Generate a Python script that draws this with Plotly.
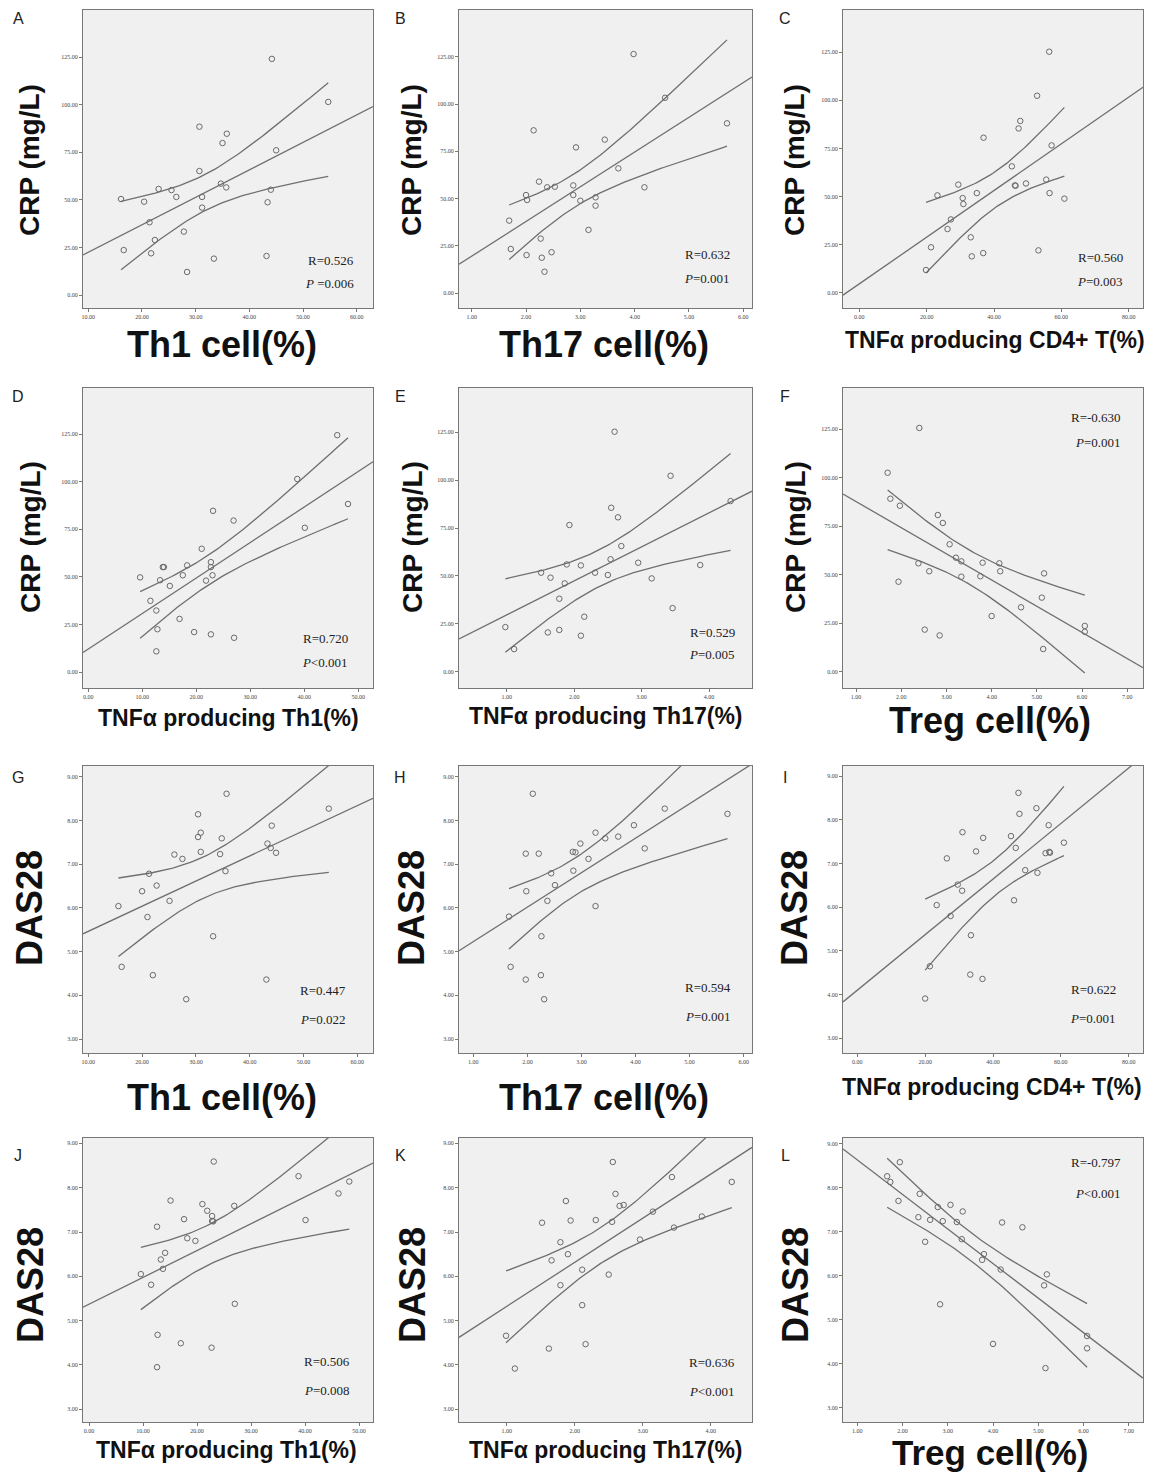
import numpy as np
import plotly.graph_objects as go

W, H = 1158, 1475

# ---------------- data ----------------
a_x = [44.2, 54.7, 30.7, 35.8, 35.0, 45.0, 30.7, 34.7, 35.7, 44.0, 23.1, 25.5, 26.4, 31.2, 16.1, 20.4, 43.4, 31.2, 21.4, 27.8, 22.4, 16.6, 21.7, 33.4, 43.2, 28.4]
a_y = [124.0, 101.4, 88.4, 84.7, 79.8, 76.0, 65.1, 58.5, 56.5, 55.3, 55.7, 55.1, 51.5, 51.5, 50.4, 49.0, 48.7, 45.9, 38.2, 33.3, 28.9, 23.6, 21.9, 19.1, 20.5, 12.1]

b_x = [3.98, 4.56, 5.70, 2.14, 2.92, 3.45, 3.70, 2.24, 2.39, 2.53, 2.87, 4.18, 2.00, 2.02, 2.87, 3.00, 3.28, 3.28, 1.69, 3.15, 2.27, 1.72, 2.01, 2.47, 2.29, 2.34]
b_y = [126.4, 103.3, 89.8, 86.1, 77.1, 81.2, 66.0, 59.0, 56.0, 56.3, 57.0, 56.0, 51.9, 49.3, 51.9, 48.9, 50.7, 46.3, 38.4, 33.5, 28.9, 23.4, 20.2, 21.7, 18.8, 11.4]

c_x = [56.4, 52.8, 47.8, 47.3, 36.9, 57.1, 45.3, 46.4, 49.5, 55.5, 29.4, 34.9, 56.5, 60.9, 23.2, 30.7, 30.9, 27.2, 26.2, 33.1, 21.3, 33.4, 36.8, 53.2, 19.8, 46.2]
c_y = [125.3, 102.4, 89.3, 85.4, 80.6, 76.6, 65.7, 55.6, 56.8, 58.8, 56.2, 51.8, 51.8, 48.9, 50.6, 49.2, 46.1, 38.1, 33.1, 28.8, 23.6, 18.9, 20.6, 22.0, 11.8, 55.8]

d_x = [46.1, 38.7, 48.1, 23.1, 26.9, 40.1, 21.0, 13.8, 14.0, 18.3, 22.7, 22.7, 17.5, 23.0, 9.6, 13.3, 21.8, 15.1, 11.5, 12.6, 16.9, 12.8, 19.6, 22.7, 27.0, 12.6]
d_y = [124.4, 101.4, 88.3, 84.7, 79.6, 75.8, 64.8, 55.2, 55.2, 56.1, 57.8, 55.2, 50.9, 50.9, 49.8, 48.3, 48.1, 45.3, 37.5, 32.4, 28.0, 22.6, 21.1, 19.9, 18.1, 11.0]

e_x = [2.60, 3.43, 4.32, 2.55, 2.65, 1.93, 2.70, 1.89, 2.10, 2.54, 2.95, 3.87, 1.51, 2.31, 2.50, 1.65, 3.15, 1.86, 1.78, 3.46, 2.15, 0.98, 1.61, 1.78, 2.10, 1.11]
e_y = [125.3, 102.3, 89.1, 85.6, 80.6, 76.6, 65.6, 56.0, 55.5, 58.7, 56.9, 55.7, 51.7, 51.7, 50.5, 49.1, 48.7, 46.1, 38.1, 33.2, 28.7, 23.3, 20.5, 21.8, 18.8, 11.8]

f_x = [2.40, 1.70, 1.76, 1.97, 2.81, 2.92, 3.07, 3.21, 3.33, 3.80, 4.17, 4.19, 2.38, 2.62, 3.33, 3.75, 5.16, 1.94, 5.11, 4.65, 4.00, 6.06, 6.06, 2.52, 2.85, 5.14]
f_y = [125.7, 102.6, 89.2, 85.6, 80.8, 76.7, 65.7, 58.8, 56.9, 56.2, 55.9, 51.8, 55.9, 51.8, 49.0, 49.2, 50.7, 46.4, 38.2, 33.2, 28.7, 23.6, 20.6, 21.7, 18.7, 11.7]

g_x = [35.7, 54.7, 30.4, 44.1, 30.9, 30.4, 34.8, 43.3, 43.9, 44.9, 26.0, 27.5, 30.9, 34.5, 35.5, 21.3, 22.7, 20.0, 25.1, 15.6, 21.0, 33.2, 16.2, 22.0, 43.1, 28.2]
g_y = [8.61, 8.27, 8.14, 7.88, 7.72, 7.62, 7.59, 7.47, 7.37, 7.26, 7.22, 7.12, 7.28, 7.23, 6.84, 6.78, 6.51, 6.38, 6.16, 6.04, 5.79, 5.35, 4.65, 4.46, 4.36, 3.91]

h_x = [2.10, 4.54, 5.70, 3.97, 3.26, 3.44, 3.68, 2.98, 1.97, 2.21, 2.84, 2.89, 3.13, 4.17, 2.44, 2.85, 2.51, 1.98, 2.37, 3.26, 1.66, 2.26, 1.69, 1.97, 2.25, 2.31]
h_y = [8.61, 8.27, 8.15, 7.89, 7.72, 7.59, 7.63, 7.47, 7.24, 7.24, 7.28, 7.27, 7.12, 7.36, 6.79, 6.85, 6.52, 6.38, 6.16, 6.04, 5.80, 5.35, 4.65, 4.36, 4.46, 3.91]

i_x = [47.5, 52.8, 47.8, 56.4, 31.0, 37.1, 45.3, 60.9, 46.7, 35.0, 55.5, 56.8, 26.4, 49.5, 53.1, 29.6, 30.9, 23.4, 46.2, 27.5, 33.5, 21.4, 33.3, 36.9, 20.0, 56.6]
i_y = [8.62, 8.27, 8.14, 7.88, 7.72, 7.59, 7.63, 7.48, 7.36, 7.28, 7.24, 7.25, 7.12, 6.85, 6.79, 6.52, 6.38, 6.05, 6.16, 5.80, 5.36, 4.65, 4.46, 4.36, 3.91, 7.27]

j_x = [23.1, 38.8, 48.2, 46.2, 15.1, 21.0, 21.9, 26.9, 22.8, 22.8, 40.1, 12.6, 17.6, 18.2, 19.7, 14.1, 13.3, 13.7, 9.6, 11.5, 27.0, 12.7, 17.0, 22.7, 12.6, 23.0]
j_y = [8.59, 8.26, 8.14, 7.87, 7.71, 7.63, 7.48, 7.59, 7.36, 7.25, 7.27, 7.12, 7.29, 6.86, 6.80, 6.53, 6.38, 6.17, 6.05, 5.81, 5.38, 4.68, 4.49, 4.39, 3.95, 7.24]

k_x = [2.56, 3.43, 4.31, 2.60, 1.87, 2.66, 2.72, 3.15, 3.87, 1.52, 1.94, 2.31, 2.55, 3.46, 2.96, 1.79, 1.90, 1.66, 2.11, 2.50, 1.79, 2.11, 0.99, 1.62, 2.16, 1.12]
k_y = [8.58, 8.24, 8.13, 7.86, 7.70, 7.59, 7.61, 7.46, 7.35, 7.21, 7.26, 7.27, 7.23, 7.10, 6.83, 6.77, 6.50, 6.36, 6.15, 6.04, 5.80, 5.35, 4.66, 4.37, 4.47, 3.92]

l_x = [1.94, 1.66, 1.73, 2.38, 1.91, 2.78, 3.06, 3.33, 2.35, 2.61, 2.89, 3.20, 4.20, 4.65, 3.31, 2.50, 3.80, 3.76, 4.17, 5.19, 5.13, 2.83, 6.08, 4.00, 6.08, 5.16]
l_y = [8.58, 8.26, 8.13, 7.86, 7.70, 7.56, 7.61, 7.46, 7.33, 7.27, 7.24, 7.22, 7.21, 7.10, 6.83, 6.77, 6.49, 6.36, 6.14, 6.03, 5.78, 5.35, 4.63, 4.45, 4.35, 3.90]

panel_letters = ["A", "B", "C", "D", "E", "F", "G", "H", "I", "J", "K", "L"]
r_texts = ["R=0.526", "R=0.632", "R=0.560", "R=0.720", "R=0.529", "R=-0.630",
           "R=0.447", "R=0.594", "R=0.622", "R=0.506", "R=0.636", "R=-0.797"]
p_texts = ["<i>P</i> =0.006", "<i>P</i>=0.001", "<i>P</i>=0.003", "<i>P</i><0.001", "<i>P</i>=0.005", "<i>P</i>=0.001",
           "<i>P</i>=0.022", "<i>P</i>=0.001", "<i>P</i>=0.001", "<i>P</i>=0.008", "<i>P</i><0.001", "<i>P</i><0.001"]
x_titles = ["Th1 cell(%)", "Th17 cell(%)", "TNFα producing CD4+ T(%)",
            "TNFα producing Th1(%)", "TNFα producing Th17(%)", "Treg cell(%)",
            "Th1 cell(%)", "Th17 cell(%)", "TNFα producing CD4+ T(%)",
            "TNFα producing Th1(%)", "TNFα producing Th17(%)", "Treg cell(%)"]
y_titles = ["CRP (mg/L)"] * 6 + ["DAS28"] * 6

xs = [a_x, b_x, c_x, d_x, e_x, f_x, g_x, h_x, i_x, j_x, k_x, l_x]
ys = [a_y, b_y, c_y, d_y, e_y, f_y, g_y, h_y, i_y, j_y, k_y, l_y]

# ---------------- layout / calibration (pixels) ----------------
cols = [(83, 373), (459, 752), (843, 1143)]
rows = [(10, 308), (388, 688), (766, 1053), (1138, 1422)]

# x calibration: (v0, px0, v1, px1)
xcal = [(10, 88.3, 60, 356.7), (1, 471.7, 6, 743.3), (0, 859.3, 80, 1128.7),
        (0, 88.3, 50, 358.3), (1, 506.7, 4, 709.0), (1, 856.0, 7, 1127.3),
        (10, 88.3, 60, 357.3), (1, 473.3, 6, 743.7), (0, 857.3, 80, 1128.7),
        (0, 89.0, 50, 359.0), (1, 506.7, 4, 710.7), (1, 857.3, 7, 1128.7)]
xdt = [10, 1, 20, 10, 1, 1, 10, 1, 20, 10, 1, 1]
ycal = [(0, 295.0, 125, 57.0), (0, 293.3, 125, 56.7), (0, 292.7, 125, 52.3),
        (0, 672.3, 125, 434.0), (0, 671.7, 125, 432.3), (0, 671.7, 125, 429.3),
        (3, 1039.0, 9, 776.7), (3, 1039.0, 9, 776.7), (3, 1038.3, 9, 776.3),
        (3, 1409.3, 8, 1187.7), (3, 1409.3, 8, 1187.7), (3, 1407.7, 8, 1187.7)]
ydt = [25] * 6 + [1] * 6

# text positions (right edge x, R y, P y)
rp_pos = [(356, 260, 284), (732, 255, 278), (1125, 257, 281),
          (350, 638, 662), (737, 632, 654), (1123, 417, 443),
          (348, 990, 1019), (733, 987, 1016), (1118, 989, 1018),
          (352, 1361, 1390), (737, 1362, 1391), (1123, 1162, 1193)]
letter_pos = [(18, 18), (400, 18), (785, 18), (18, 397), (400, 397), (785, 397),
              (18, 777), (400, 777), (785, 777), (18, 1155), (400, 1155), (785, 1155)]
xtitle_pos = [(222, 345, 36), (604, 345, 36), (995, 340, 23),
              (228, 718, 23), (606, 716, 23), (990, 720, 36),
              (222, 1097, 36), (604, 1097, 36), (992, 1087, 23),
              (226, 1450, 23), (606, 1450, 23), (990, 1452, 35)]
ytitle_x = [30, 412, 795]
ytitle_y = [160, 537, 908, 1285]

T95 = 2.064  # t(0.975, df=24)
LINE = "#6f6f6f"


def pix2val(cal, p):
    v0, p0, v1, p1 = cal
    return v0 + (p - p0) * (v1 - v0) / (p1 - p0)


def px(xp):
    return xp / W


def py(yp):
    return 1 - yp / H


fig = go.Figure()
annotations = []

for i in range(12):
    r, c = divmod(i, 3)
    x0, x1 = cols[c]
    y0, y1 = rows[r]
    xr = [pix2val(xcal[i], x0), pix2val(xcal[i], x1)]
    yr = [pix2val(ycal[i], y1), pix2val(ycal[i], y0)]
    sfx = "" if i == 0 else str(i + 1)
    xa, ya = "x" + sfx, "y" + sfx

    x = np.array(xs[i], dtype=float)
    y = np.array(ys[i], dtype=float)
    n = len(x)
    slope, icpt = np.polyfit(x, y, 1)
    resid = y - (slope * x + icpt)
    s = np.sqrt(np.sum(resid ** 2) / (n - 2))
    xbar = x.mean()
    sxx = np.sum((x - xbar) ** 2)

    # fit line across the whole axis
    xf = np.linspace(xr[0], xr[1], 50)
    fig.add_trace(go.Scatter(x=xf, y=slope * xf + icpt, mode="lines",
                             line=dict(color=LINE, width=1.3), xaxis=xa, yaxis=ya,
                             showlegend=False, hoverinfo="skip"))
    # 95% CI of mean
    xc = np.linspace(x.min(), x.max(), 80)
    se = s * np.sqrt(1 / n + (xc - xbar) ** 2 / sxx)
    yc = slope * xc + icpt
    for sign in (1, -1):
        fig.add_trace(go.Scatter(x=xc, y=yc + sign * T95 * se, mode="lines",
                                 line=dict(color=LINE, width=1.3), xaxis=xa, yaxis=ya,
                                 showlegend=False, hoverinfo="skip"))
    # points
    fig.add_trace(go.Scatter(x=x, y=y, mode="markers",
                             marker=dict(symbol="circle-open", size=5.5, color="#6a6a6a",
                                         line=dict(width=1)),
                             xaxis=xa, yaxis=ya, showlegend=False, cliponaxis=False))

    tick_font = dict(family="Liberation Serif", size=6, color="#444")
    fig.update_layout(**{
        ("xaxis" + sfx): dict(domain=[px(x0), px(x1)], range=xr, anchor=ya,
                              tick0=xcal[i][0], dtick=xdt[i], tickformat=".2f",
                              ticks="outside", ticklen=3, tickcolor="#777",
                              showgrid=False, zeroline=False, showline=True, mirror=True,
                              linecolor="#777", linewidth=1, tickfont=tick_font),
        ("yaxis" + sfx): dict(domain=[py(y1), py(y0)], range=yr, anchor=xa,
                              tick0=ycal[i][0], dtick=ydt[i], tickformat=".2f",
                              ticks="outside", ticklen=3, tickcolor="#777",
                              showgrid=False, zeroline=False, showline=True, mirror=True,
                              linecolor="#777", linewidth=1, tickfont=tick_font),
    })

    rx, ry, pyy = rp_pos[i]
    serif = dict(family="Liberation Serif", size=13, color="#222")
    annotations.append(dict(x=px(rx), y=py(ry), xref="paper", yref="paper", text=r_texts[i],
                            showarrow=False, xanchor="right", yanchor="middle", font=serif))
    annotations.append(dict(x=px(rx), y=py(pyy), xref="paper", yref="paper", text=p_texts[i],
                            showarrow=False, xanchor="right", yanchor="middle", font=serif))
    lx, ly = letter_pos[i]
    annotations.append(dict(x=px(lx), y=py(ly), xref="paper", yref="paper", text=panel_letters[i],
                            showarrow=False, xanchor="center", yanchor="middle",
                            font=dict(family="Liberation Sans", size=16, color="#222")))
    tx, ty, ts = xtitle_pos[i]
    annotations.append(dict(x=px(tx), y=py(ty), xref="paper", yref="paper",
                            text="<b>" + x_titles[i] + "</b>", showarrow=False,
                            xanchor="center", yanchor="middle",
                            font=dict(family="Liberation Sans", size=ts, color="#111")))
    yfs = 28 if y_titles[i].startswith("CRP") else 36
    annotations.append(dict(x=px(ytitle_x[c]), y=py(ytitle_y[r]), xref="paper", yref="paper",
                            text="<b>" + y_titles[i] + "</b>", showarrow=False, textangle=-90,
                            xanchor="center", yanchor="middle",
                            font=dict(family="Liberation Sans", size=yfs, color="#111")))

fig.update_layout(width=W, height=H, margin=dict(l=0, r=0, t=0, b=0),
                  paper_bgcolor="white", plot_bgcolor="#F0F0F0",
                  annotations=annotations, showlegend=False)

fig.write_html("out.html", config={"displayModeBar": False},
               post_script="document.body.style.margin='0';document.body.style.overflow='hidden';")
